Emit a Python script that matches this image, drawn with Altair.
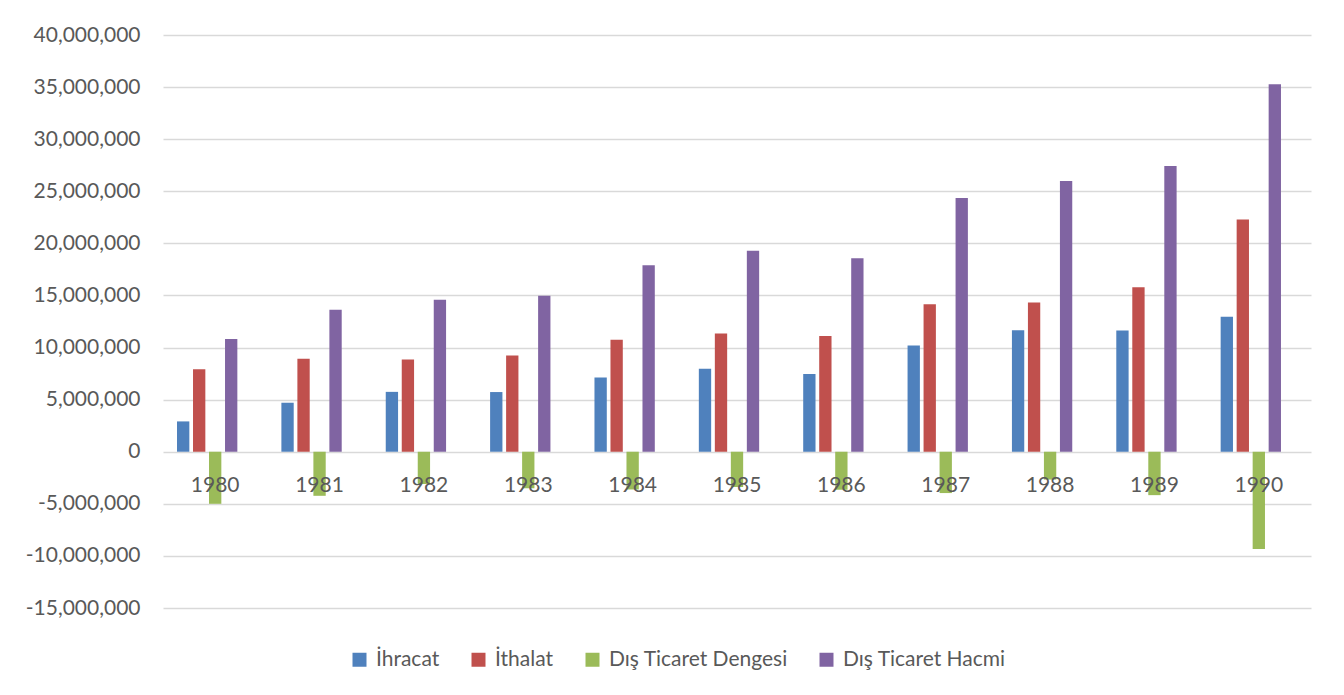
import altair as alt
import pandas as pd

years = ["1980", "1981", "1982", "1983", "1984", "1985", "1986", "1987", "1988", "1989", "1990"]
series = ["İhracat", "İthalat", "Dış Ticaret Dengesi", "Dış Ticaret Hacmi"]
colors = ["#4f81bd", "#c0504d", "#9bbb59", "#8064a2"]

ihracat = [2910122, 4702934, 5746026, 5727834, 7133604, 7958010, 7456725, 10190049, 11662024, 11624692, 12959288]
ithalat = [7909364, 8933374, 8842665, 9235002, 10756923, 11343376, 11104771, 14157803, 14335398, 15792143, 22302126]
denge = [-4999242, -4230440, -3096639, -3507168, -3623319, -3385366, -3648046, -3967754, -2673374, -4167451, -9342838]
hacim = [10819486, 13636308, 14588691, 14962836, 17890527, 19301386, 18561496, 24347852, 25997422, 27416835, 35261414]

y_ticks = [-15000000, -10000000, -5000000, 0, 5000000, 10000000, 15000000,
           20000000, 25000000, 30000000, 35000000, 40000000]

rows = []
for name, vals in zip(series, [ihracat, ithalat, denge, hacim]):
    for yr, v in zip(years, vals):
        rows.append({"Yıl": yr, "Seri": name, "Değer": v})
df = pd.DataFrame(rows)

FONT = "Lato"
GRAY = "#595959"

chart = alt.Chart(df).mark_bar().encode(
    x=alt.X(
        "Yıl:N",
        sort=years,
        scale=alt.Scale(paddingInner=0, paddingOuter=0),
        axis=alt.Axis(
            title=None, labelAngle=0, domain=False, ticks=False,
            labelPadding=22, offset=-156, zindex=1,
            labelFontSize=21, labelColor=GRAY, labelFont=FONT,
        ),
    ),
    xOffset=alt.XOffset(
        "Seri:N",
        scale=alt.Scale(domain=series + ["_"], paddingInner=0.23, paddingOuter=0.876),
    ),
    y=alt.Y(
        "Değer:Q",
        scale=alt.Scale(domain=[-15000000, 40000000], nice=False),
        axis=alt.Axis(
            title=None, values=y_ticks, ticks=False, domain=False,
            labelExpr="replace(format(datum.value, ','), '\u2212', '-')",
            gridColor="#d9d9d9", gridWidth=1.3, labelPadding=23,
            labelFontSize=21, labelColor=GRAY, labelFont=FONT,
        ),
    ),
    color=alt.Color(
        "Seri:N",
        sort=series,
        scale=alt.Scale(domain=series, range=colors),
        legend=alt.Legend(
            title=None, orient="none", direction="horizontal",
            legendX=186, legendY=614,
            symbolType="square", symbolSize=196, symbolStrokeWidth=0,
            labelOffset=6, columnPadding=28, labelLimit=400,
            labelFontSize=21, labelFont=FONT, labelColor=GRAY,
        ),
    ),
).properties(
    width=1148,
    height=573,
    padding={"left": 155, "top": 27, "right": 25, "bottom": 75},
    autosize="none",
).configure_view(stroke=None)

chart.save("out.html", embed_options={"renderer": "svg", "actions": False})
